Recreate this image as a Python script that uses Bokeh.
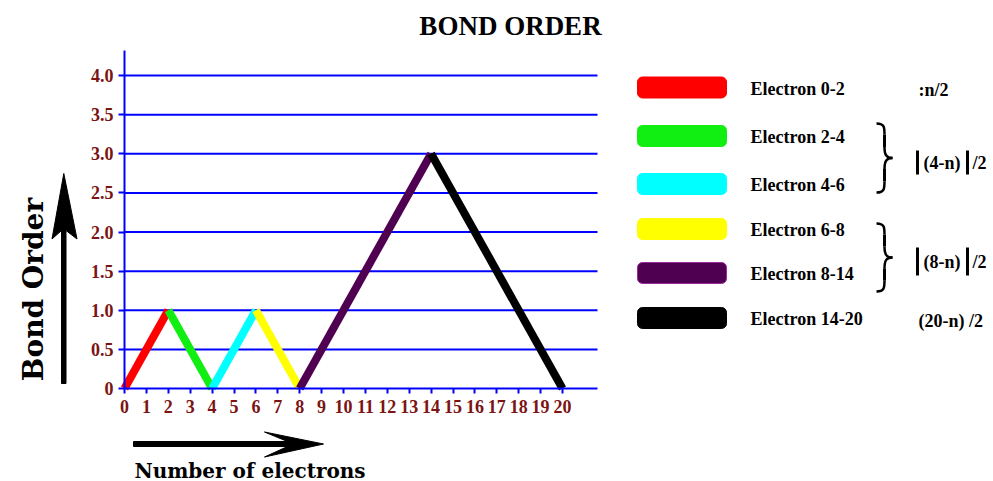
import math
from bokeh.plotting import figure
from bokeh.models import Range1d, FixedTicker, CustomJSTickFormatter
from bokeh.core.properties import value
from bokeh.embed import file_html
from bokeh.resources import INLINE

# ---------------- data ----------------
electrons = [0, 2, 4, 6, 8, 14, 20]
bond_order = [0, 1, 0, 1, 0, 3, 0]
segment_colors = ["#ff0000", "#11ee11", "#00ffff", "#ffff00", "#500050", "#000000"]
legend_labels = ["Electron 0-2", "Electron 2-4", "Electron 4-6",
                 "Electron 6-8", "Electron 8-14", "Electron 14-20"]
x_ticks = list(range(0, 21))
y_ticks = [0, 0.5, 1.0, 1.5, 2.0, 2.5, 3.0, 3.5, 4.0]
formula_plain = [":n/2", "(20-n) /2"]
formula_abs = ["(4-n)", "(8-n)"]

title_text = "BOND ORDER"
y_title = "Bond Order"
x_title = "Number of electrons"

# ---------------- layout (pixel geometry of the picture) ----------------
W, H = 993, 481
PX0, PY0 = 124, 388          # pixel position of data origin
SX, SY = 21.9, 78.25         # pixels per data unit
X_END = (597 - PX0) / SX     # right end of axis / grid lines
Y_END = (PY0 - 50) / SY      # top end of the y axis


def X(px):
    return (px - PX0) / SX


def Y(py):
    return (PY0 - py) / SY


BLUE = "#0000ff"
MAROON = "#7b1414"

p = figure(width=W, height=H, x_range=Range1d(X(0), X(W)), y_range=Range1d(Y(H), Y(0)),
           output_backend="svg", toolbar_location=None, min_border=0)
p.outline_line_color = None
p.background_fill_color = "white"
p.border_fill_color = "white"
p.xgrid.visible = False
p.ygrid.visible = False

# axes drawn at the data origin
for ax in (p.xaxis, p.yaxis):
    ax.fixed_location = 0
    ax.axis_line_color = BLUE
    ax.axis_line_width = 2
    ax.major_tick_line_color = BLUE
    ax.major_tick_line_width = 2
    ax.minor_tick_line_color = None
    ax.major_tick_in = 0
    ax.major_label_text_color = MAROON
    ax.major_label_text_font = "Liberation Serif"
    ax.major_label_text_font_style = "bold"
    ax.major_label_text_font_size = "18px"

p.xaxis.bounds = (0, X_END)
p.xaxis.ticker = FixedTicker(ticks=x_ticks)
p.xaxis.major_tick_out = 5
p.xaxis.major_label_standoff = 6
p.yaxis.bounds = (0, Y_END)
p.yaxis.ticker = FixedTicker(ticks=y_ticks)
p.yaxis.major_tick_out = 6
p.yaxis.major_label_standoff = 5
p.yaxis.formatter = CustomJSTickFormatter(code="return tick == 0 ? '0' : tick.toFixed(1);")

# horizontal grid lines
grid_y = y_ticks[1:]
p.segment(x0=[0] * len(grid_y), y0=grid_y, x1=[X_END] * len(grid_y), y1=grid_y,
          line_color=BLUE, line_width=2)

# data segments
p.segment(x0=electrons[:-1], y0=bond_order[:-1], x1=electrons[1:], y1=bond_order[1:],
          line_color=segment_colors, line_width=8)

# titles
p.text(x=[X(510)], y=[Y(25)], text=[title_text], text_align="center", text_baseline="middle",
       text_font=value("Liberation Serif"), text_font_style="bold", text_font_size="27px",
       text_color="black")
p.text(x=[X(33)], y=[Y(289)], text=[y_title], angle=math.pi / 2, text_align="center",
       text_baseline="middle", text_font=value("DejaVu Serif"), text_font_style="bold",
       text_font_size="28px", text_color="black")
p.text(x=[X(249.5)], y=[Y(470)], text=[x_title], text_align="center", text_baseline="middle",
       text_font=value("DejaVu Serif"), text_font_style="bold", text_font_size="20px",
       text_color="black")

# arrows (pixel outlines)
h_arrow = [(133, 441), (287, 441), (264, 431.5), (323, 443.5), (264, 456.5), (287, 446), (133, 446)]
v_arrow = [(61, 383), (61, 230), (51.5, 238.5), (63.3, 173), (76.5, 238.5), (65.5, 230), (65.5, 383)]
for pts in (h_arrow, v_arrow):
    p.patch(x=[X(a) for a, _ in pts], y=[Y(b) for _, b in pts],
            fill_color="black", line_color="black", line_width=1)

# ---------------- legend ----------------
row_y = [87, 135.5, 183.5, 228.5, 272.5, 317.5]
sw_left, sw_right, sw_half = 637, 726, 10.5
swatch_line = ["#ff0000", "#11ee11", "#00ffff", "#ffff00", "#9a2a9a", "#000000"]
p.quad(left=[X(sw_left)] * 6, right=[X(sw_right)] * 6,
       top=[Y(r - sw_half) for r in row_y], bottom=[Y(r + sw_half) for r in row_y],
       fill_color=segment_colors, line_color=swatch_line, line_width=1, border_radius=5)

FONT = value("Liberation Serif")
p.text(x=[X(750)] * 6, y=[Y(r + 1) for r in row_y], text=legend_labels,
       text_font=FONT, text_font_style="bold", text_font_size="18px",
       text_align="left", text_baseline="middle", text_color="black")

p.text(x=[X(918), X(918)], y=[Y(89), Y(320)], text=formula_plain,
       text_font=FONT, text_font_style="bold", text_font_size="18px",
       text_align="left", text_baseline="middle", text_color="black")

abs_y = [162, 261]
abs_half = [12, 14]
p.text(x=[X(923)] * 2, y=[Y(c) for c in abs_y], text=formula_abs,
       text_font=FONT, text_font_style="bold", text_font_size="18px",
       text_align="left", text_baseline="middle", text_color="black")
p.text(x=[X(972)] * 2, y=[Y(c) for c in abs_y], text=["/2", "/2"],
       text_font=FONT, text_font_style="bold", text_font_size="18px",
       text_align="left", text_baseline="middle", text_color="black")
for bx in (917, 967):
    p.segment(x0=[X(bx)] * 2, y0=[Y(c - h) for c, h in zip(abs_y, abs_half)],
              x1=[X(bx)] * 2, y1=[Y(c + h) for c, h in zip(abs_y, abs_half)],
              line_color="black", line_width=3)

# braces
brace_spans = [(123, 192), (223, 291)]
xl, xr = 876, 892
xm = (xl + xr) / 2
bz = {k: [] for k in ("x0", "y0", "x1", "y1", "cx0", "cy0", "cx1", "cy1")}
st = {k: [] for k in ("x0", "y0", "x1", "y1")}


def add_bez(a, c0, c1, b):
    bz["x0"].append(X(a[0])); bz["y0"].append(Y(a[1]))
    bz["cx0"].append(X(c0[0])); bz["cy0"].append(Y(c0[1]))
    bz["cx1"].append(X(c1[0])); bz["cy1"].append(Y(c1[1]))
    bz["x1"].append(X(b[0])); bz["y1"].append(Y(b[1]))


for T, B in brace_spans:
    M = (T + B) / 2
    h2 = M - T
    for s, E in ((1, T), (-1, B)):
        add_bez((xl, E), (xm, E), (xm, E + s * 0.12 * h2), (xm, E + s * 0.32 * h2))
        st["x0"].append(X(xm)); st["y0"].append(Y(E + s * 0.32 * h2))
        st["x1"].append(X(xm)); st["y1"].append(Y(M - s * 0.32 * h2))
        add_bez((xm, M - s * 0.32 * h2), (xm, M - s * 0.08 * h2), (xm + 2, M), (xr, M))
p.bezier(line_color="black", line_width=2.5, **bz)
p.segment(line_color="black", line_width=3, **st)

open("out.html", "w").write(file_html(p, INLINE))
